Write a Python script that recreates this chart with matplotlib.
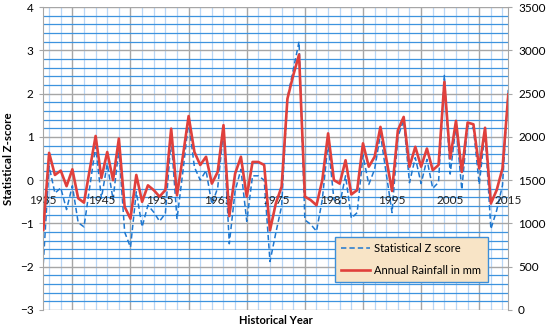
import matplotlib
matplotlib.use("Agg")
import matplotlib.pyplot as plt
from matplotlib.ticker import MultipleLocator

years = list(range(1935, 2016))

rainfall_mm = [925, 1815, 1560, 1610, 1430, 1625, 1290, 1240, 1625, 2010,
               1525, 1825, 1500, 1980, 1190, 1055, 1560, 1250, 1440, 1385,
               1310, 1385, 2095, 1325, 1770, 2240, 1825, 1675, 1770, 1460,
               1595, 2135, 1085, 1575, 1770, 1310, 1710, 1710, 1675, 920,
               1230, 1425, 2440, 2710, 2950, 1310, 1270, 1210, 1500, 2040,
               1500, 1460, 1730, 1335, 1385, 1925, 1655, 1770, 2115, 1750,
               1375, 2075, 2230, 1655, 1885, 1655, 1865, 1615, 1675, 2635,
               1750, 2185, 1595, 2165, 2145, 1635, 2105, 1230, 1385, 1635,
               2490]

z_score = [-1.92, 0.32, -0.30, -0.18, -0.68, -0.13, -0.98, -1.08, -0.15, 0.78,
           -0.42, 0.38, -0.45, 0.72, -1.20, -1.55, -0.27, -1.08, -0.58, -0.74,
           -0.95, -0.77, 0.97, -0.90, 0.18, 1.35, 0.30, 0.00, 0.22, -0.56,
           -0.18, 1.14, -1.47, -0.25, 0.25, -0.95, 0.10, 0.10, 0.00, -1.88,
           -1.22, -0.60, 1.90, 2.55, 3.20, -0.92, -1.02, -1.18, -0.45, 0.87,
           -0.45, -0.55, 0.10, -0.88, -0.75, 0.57, -0.10, 0.25, 1.06, 0.15,
           -0.75, 1.00, 1.38, -0.06, 0.52, -0.08, 0.48, -0.19, -0.05, 2.42,
           0.14, 1.26, -0.22, 1.25, 1.20, -0.10, 1.12, -1.13, -0.70, -0.12,
           2.10]

x_labels = [1935, 1945, 1955, 1965, 1975, 1985, 1995, 2005, 2015]

plt.rcParams['font.family'] = ['Lato', 'DejaVu Sans']

W, H = 550, 329
fig = plt.figure(figsize=(W / 100, H / 100), dpi=100)
ax = fig.add_axes([43.3 / W, 1 - 310 / H, (508.3 - 43.3) / W, (310 - 7) / H])

ax.set_xlim(1935, 2015)
ax.set_ylim(-3, 4)

ax.xaxis.set_major_locator(MultipleLocator(10))
ax.xaxis.set_minor_locator(MultipleLocator(2))
ax.yaxis.set_major_locator(MultipleLocator(1))
ax.yaxis.set_minor_locator(MultipleLocator(0.2))

ax.xaxis.grid(True, which='minor', color='#b8d6f6', lw=0.9)
ax.yaxis.grid(True, which='minor', color='#3d93de', lw=0.9)
ax.xaxis.grid(True, which='major', color='#a6a6a6', lw=1.0)
ax.yaxis.grid(True, which='major', color='#a6a6a6', lw=1.0)
ax.set_axisbelow(True)

ax.tick_params(axis='x', which='both', length=0, labelbottom=False)
ax.tick_params(axis='y', which='minor', length=0)
ax.tick_params(axis='y', which='major', length=3, color='#a6a6a6',
               labelsize=8.5, pad=4)
for s in ['top', 'right', 'bottom']:
    ax.spines[s].set_visible(False)
ax.spines['left'].set_color('#a6a6a6')

for yr in x_labels:
    ax.text(yr, -0.46, str(yr), ha='center', va='center', fontsize=8.5,
            color='#222222')

ln_z, = ax.plot(years, z_score, color='#1f78d0', lw=1.1, ls=(0, (3.5, 2)))

ax2 = ax.twinx()
ax2.set_ylim(0, 3500)
ax2.yaxis.set_major_locator(MultipleLocator(500))
ax2.tick_params(axis='y', which='major', length=3, color='#a6a6a6',
                labelsize=8.5, pad=4)
for s in ['top', 'left', 'bottom']:
    ax2.spines[s].set_visible(False)
ax2.spines['right'].set_color('#a6a6a6')
ln_r, = ax2.plot(years, rainfall_mm, color='#e0403c', lw=1.9)

ax.set_ylabel('Statistical Z-score', fontsize=8.3, fontweight='bold')
ax.yaxis.set_label_coords(-35 / 465, 0.5)
ax.yaxis.label.set_va('center')
ax.set_xlabel('Historical Year', fontsize=8, fontweight='bold')
ax.xaxis.set_label_coords(0.5, -5 / 303)
ax.xaxis.label.set_va('top')

leg = ax2.legend([ln_z, ln_r], ['Statistical Z score', 'Annual Rainfall in mm'],
                 loc='upper left',
                 bbox_to_anchor=((335 - 43.3) / 465, (310 - 237) / 303),
                 fontsize=8, frameon=True, fancybox=False,
                 handlelength=2.6, handletextpad=0.4, labelspacing=1.0,
                 borderpad=0.55, borderaxespad=0)
frame = leg.get_frame()
frame.set_facecolor('#f8e4c6')
frame.set_edgecolor('#3d8fd8')
frame.set_linewidth(1.0)
frame.set_alpha(1)

fig.savefig('out.png', dpi=100)
